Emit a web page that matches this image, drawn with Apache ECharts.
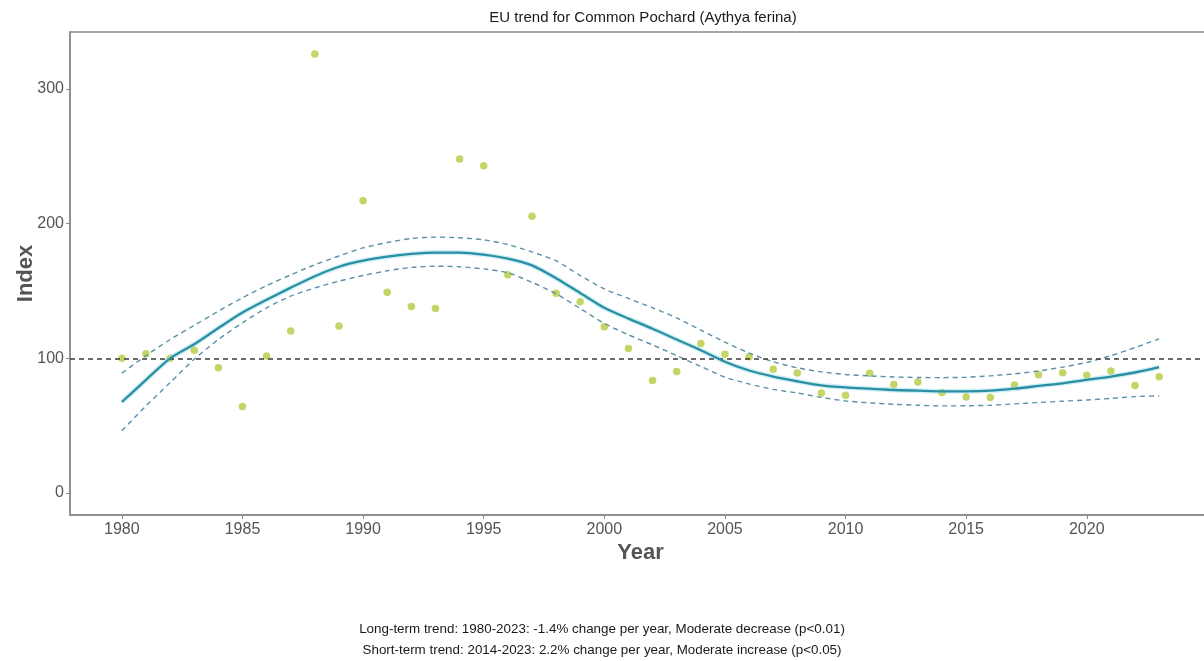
<!DOCTYPE html>
<html>
<head>
<meta charset="utf-8">
<title>EU trend for Common Pochard (Aythya ferina)</title>
<script src="https://cdn.jsdelivr.net/npm/echarts@6/dist/echarts.min.js"></script>
<style>
  html, body { margin: 0; padding: 0; background: #ffffff; }
  #chart { width: 1204px; height: 661px; }
</style>
</head>
<body>
<div id="chart"></div>
<script>
// Survey years
const years = [
  1980, 1981, 1982, 1983, 1984, 1985, 1986, 1987, 1988, 1989,
  1990, 1991, 1992, 1993, 1994, 1995, 1996, 1997, 1998, 1999,
  2000, 2001, 2002, 2003, 2004, 2005, 2006, 2007, 2008, 2009,
  2010, 2011, 2012, 2013, 2014, 2015, 2016, 2017, 2018, 2019,
  2020, 2021, 2022, 2023
];

// Yearly population index (1980 = 100)
const indexValues = [
  100, 103.5, 100, 106, 93, 64.2, 101.8, 120.3, 326, 124,
  217, 149, 138.5, 137, 248, 243, 162, 205.5, 148.3, 142,
  123.5, 107.4, 83.5, 90.2, 111, 103, 101.2, 92, 89.1, 74.3,
  72.6, 88.9, 80.5, 82.5, 74.6, 71.4, 70.9, 80.2, 87.9, 89.4,
  87.4, 90.6, 79.8, 86.4
];

// Smoothed trend
const trendValues = [
  67.6, 84, 100, 110.5, 122.5, 134, 143.5, 152.5, 161, 168,
  172.5, 175.5, 177.5, 178.5, 178.5, 177, 174, 169, 159.5, 148.5,
  137.5, 129.5, 122, 114, 106, 97.5, 91, 86.5, 83, 80,
  78.5, 77.5, 76.5, 76, 75.5, 75.5, 76, 77.5, 79.5, 81.5,
  84, 86.5, 89.5, 93.5
];

// Upper confidence limit of the trend
const upperValues = [
  89, 102, 114, 124.5, 135, 145, 154, 162, 169.5, 176,
  182, 186, 189, 190, 189.5, 188, 184.5, 179, 172.5, 161.5,
  151.5, 144.5, 137.5, 130, 121, 112, 104, 97.5, 93, 90,
  88, 87, 86.2, 85.8, 85.7, 86, 87, 88.5, 90.6, 93.5,
  97, 102, 108, 114.5
];

// Lower confidence limit of the trend
const lowerValues = [
  46.2, 64.7, 82, 99.3, 114, 126.4, 137.5, 146.2, 152.3, 157.3,
  161.5, 165, 167.5, 168.4, 168, 166.4, 163.5, 156.5, 148, 137,
  126, 117.5, 110, 102, 94, 86, 81, 77, 74.3, 71,
  68.4, 67, 65.9, 65.2, 64.7, 64.8, 65.2, 66.2, 67.2, 68.2,
  69.1, 70.3, 71.6, 72.1
];

const xTicks = [1980, 1985, 1990, 1995, 2000, 2005, 2010, 2015, 2020];
const yTicks = [0, 100, 200, 300];
const baselineValue = 100;

const titleText = 'EU trend for Common Pochard (Aythya ferina)';
const footerLines = [
  'Long-term trend: 1980-2023: -1.4% change per year, Moderate decrease (p<0.01)',
  'Short-term trend: 2014-2023: 2.2% change per year, Moderate increase (p<0.05)'
];

const pairs = (ys) => years.map((y, i) => [y, ys[i]]);

const FONT = '"Liberation Sans", Arial, Helvetica, sans-serif';
const chart = echarts.init(document.getElementById('chart'), null, { renderer: 'canvas' });

const dashedCI = {
  type: 'line',
  showSymbol: false,
  silent: true,
  smooth: 0.25,
  lineStyle: { color: '#5a90a8', width: 1.4, type: [5, 4] },
  z: 4
};

chart.setOption({
  animation: false,
  backgroundColor: '#ffffff',
  title: {
    text: titleText,
    left: 638,
    top: 5,
    textAlign: 'center',
    textStyle: { fontFamily: FONT, fontSize: 15, fontWeight: 'normal', color: '#1a1a1a' }
  },
  grid: {
    left: 70, top: 32, right: -7, bottom: 146,
    outerBoundsMode: 'none',
    containLabel: false,
    show: true,
    borderColor: '#8a8a8a',
    borderWidth: 1.5,
    backgroundColor: '#ffffff'
  },
  xAxis: {
    type: 'value',
    min: 1977.85,
    max: 2025.15,
    name: 'Year',
    nameLocation: 'middle',
    nameGap: 27,
    nameMoveOverlap: false,
    nameTextStyle: { fontFamily: FONT, fontSize: 22, fontWeight: 'bold', color: '#555555' },
    axisLine: { show: true, onZero: false, lineStyle: { color: '#8a8a8a', width: 1.5 } },
    axisTick: { show: true, length: 4, customValues: xTicks, lineStyle: { color: '#8a8a8a' } },
    axisLabel: {
      customValues: xTicks,
      margin: 7,
      fontFamily: FONT, fontSize: 16, color: '#555555',
      formatter: (v) => String(v)
    },
    splitLine: { show: false }
  },
  yAxis: {
    type: 'value',
    min: -16.3,
    max: 342.3,
    name: 'Index',
    nameLocation: 'middle',
    nameGap: 33,
    nameMoveOverlap: false,
    nameTextStyle: { fontFamily: FONT, fontSize: 22, fontWeight: 'bold', color: '#555555' },
    axisLine: { show: true, onZero: false, lineStyle: { color: '#8a8a8a', width: 1.5 } },
    axisTick: { show: true, length: 4, customValues: yTicks, lineStyle: { color: '#8a8a8a' } },
    axisLabel: {
      customValues: yTicks,
      margin: 6,
      fontFamily: FONT, fontSize: 16, color: '#555555',
      formatter: (v) => String(v)
    },
    splitLine: { show: false }
  },
  graphic: footerLines.map((line, i) => ({
    type: 'text',
    left: 'center',
    top: 623 + i * 21,
    style: { text: line, fontFamily: FONT, fontSize: 13.4, fill: '#1a1a1a' }
  })),
  series: [
    {
      name: 'Index',
      type: 'scatter',
      data: pairs(indexValues),
      symbol: 'circle',
      symbolSize: 7.5,
      itemStyle: { color: '#b5cb40' },
      silent: true,
      z: 2
    },
    {
      name: 'Trend halo',
      type: 'line',
      data: pairs(trendValues),
      showSymbol: false,
      silent: true,
      smooth: 0.25,
      lineStyle: { color: 'rgba(150, 220, 235, 0.45)', width: 5 },
      z: 3
    },
    {
      name: 'Trend',
      type: 'line',
      data: pairs(trendValues),
      showSymbol: false,
      silent: true,
      smooth: 0.25,
      lineStyle: { color: '#2a8fa3', width: 2.3 },
      z: 5
    },
    Object.assign({ name: 'Upper', data: pairs(upperValues) }, dashedCI),
    Object.assign({ name: 'Lower', data: pairs(lowerValues) }, dashedCI),
    {
      name: 'Baseline',
      type: 'line',
      data: [],
      silent: true,
      markLine: {
        silent: true,
        symbol: ['none', 'none'],
        label: { show: false },
        lineStyle: { color: '#3a3a3a', width: 1.5, type: [5, 4] },
        data: [{ yAxis: baselineValue }]
      },
      z: 6
    }
  ]
});
</script>
</body>
</html>
